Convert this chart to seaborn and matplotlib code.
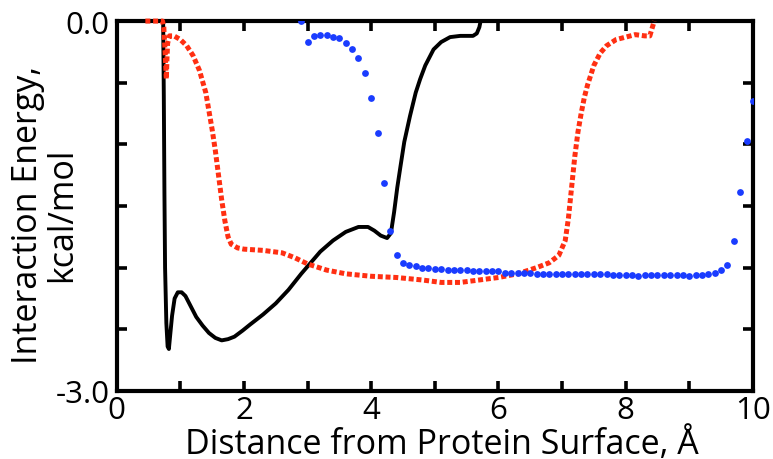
import numpy as np
import pandas as pd
import seaborn as sns
import matplotlib.pyplot as plt
from matplotlib.ticker import MultipleLocator, FuncFormatter

# black solid curve
black_x = [0.73, 0.74, 0.75, 0.76, 0.78, 0.80, 0.82, 0.84, 0.87, 0.91, 0.96, 1.02,
           1.08, 1.15, 1.25, 1.35, 1.45, 1.55, 1.65, 1.75, 1.85, 1.98, 2.1, 2.3,
           2.5, 2.7, 2.9, 3.0, 3.2, 3.4, 3.6, 3.8, 3.95, 4.05, 4.15, 4.25, 4.31,
           4.36, 4.41, 4.46, 4.52, 4.61, 4.70, 4.77, 4.85, 4.98, 5.1, 5.24, 5.4,
           5.6, 5.66, 5.70, 5.72]
black_y = [0.0, -0.6, -1.4, -2.0, -2.45, -2.64, -2.66, -2.55, -2.39, -2.25, -2.20, -2.20,
           -2.23, -2.30, -2.40, -2.47, -2.53, -2.57, -2.59, -2.58, -2.56, -2.51, -2.46, -2.38,
           -2.29, -2.18, -2.05, -1.99, -1.87, -1.78, -1.71, -1.67, -1.67, -1.70, -1.74, -1.76, -1.72,
           -1.55, -1.35, -1.18, -0.98, -0.77, -0.58, -0.47, -0.36, -0.23, -0.17, -0.13, -0.12,
           -0.12, -0.10, -0.05, 0.0]

# red dotted curve
red_x = [0.45, 0.60, 0.72, 0.74, 0.76, 0.78, 0.79, 0.80, 0.83, 0.90, 1.0, 1.1, 1.2,
         1.3, 1.4, 1.5, 1.55, 1.6, 1.65, 1.7, 1.75, 1.8, 1.9, 2.0, 2.3, 2.6, 2.8,
         3.0, 3.3, 3.6, 4.0, 4.4, 4.8, 5.1, 5.4, 5.7, 6.0, 6.3, 6.6, 6.8, 6.95,
         7.05, 7.1, 7.15, 7.2, 7.25, 7.3, 7.35, 7.4, 7.5, 7.6, 7.7, 7.85, 8.0,
         8.15, 8.3, 8.38, 8.42, 8.45]
red_y = [0.0, 0.0, 0.0, -0.05, -0.25, -0.47, -0.30, -0.18, -0.12, -0.12, -0.15, -0.20, -0.28,
         -0.40, -0.58, -0.88, -1.05, -1.25, -1.45, -1.62, -1.75, -1.81, -1.84, -1.85, -1.86, -1.88, -1.92,
         -1.97, -2.02, -2.05, -2.07, -2.08, -2.10, -2.12, -2.12, -2.10, -2.08, -2.05, -2.00, -1.96, -1.90,
         -1.78, -1.60, -1.35, -1.10, -0.90, -0.75, -0.62, -0.52, -0.36, -0.26, -0.20, -0.15, -0.13,
         -0.11, -0.12, -0.12, -0.05, 0.0]

# blue dots, one every 0.1 A from 2.9 to 10.0
blue_x = [2.9, 3.0, 3.1, 3.2, 3.3, 3.4, 3.5, 3.6, 3.7, 3.8,
          3.9, 4.0, 4.1, 4.2, 4.3, 4.4, 4.5, 4.6, 4.7, 4.8,
          4.9, 5.0, 5.1, 5.2, 5.3, 5.4, 5.5, 5.6, 5.7, 5.8,
          5.9, 6.0, 6.1, 6.2, 6.3, 6.4, 6.5, 6.6, 6.7, 6.8,
          6.9, 7.0, 7.1, 7.2, 7.3, 7.4, 7.5, 7.6, 7.7, 7.8,
          7.9, 8.0, 8.1, 8.2, 8.3, 8.4, 8.5, 8.6, 8.7, 8.8,
          8.9, 9.0, 9.1, 9.2, 9.3, 9.4, 9.5, 9.6, 9.7, 9.8,
          9.9, 10.0]
blue_y = [0.0, -0.17, -0.12, -0.11, -0.11, -0.13, -0.14, -0.18, -0.23, -0.30,
          -0.42, -0.62, -0.91, -1.31, -1.70, -1.90, -1.96, -1.98, -1.99, -2.00,
          -2.00, -2.01, -2.01, -2.02, -2.02, -2.02, -2.02, -2.03, -2.03, -2.03,
          -2.03, -2.03, -2.04, -2.04, -2.04, -2.04, -2.04, -2.05, -2.05, -2.05,
          -2.05, -2.05, -2.05, -2.05, -2.05, -2.05, -2.05, -2.05, -2.05, -2.06,
          -2.06, -2.06, -2.06, -2.07, -2.06, -2.06, -2.06, -2.06, -2.06, -2.06,
          -2.06, -2.07, -2.06, -2.06, -2.05, -2.04, -2.02, -1.98, -1.78, -1.39,
          -0.97, -0.65]

sns.set_style("ticks", {'axes.edgecolor': 'black', 'xtick.color': 'black',
                        'ytick.color': 'black', 'text.color': 'black',
                        'axes.labelcolor': 'black'})
plt.rcParams['font.family'] = ['Open Sans', 'DejaVu Sans']

fig = plt.figure(figsize=(7.73, 4.6), dpi=100)
ax = fig.add_axes([0.151, 0.148, 0.823, 0.804])

sns.lineplot(x=black_x, y=black_y, color='black', lw=2.8, sort=False, ax=ax, zorder=3)
red_line = sns.lineplot(x=red_x, y=red_y, color='#ff2f12', lw=3.6, sort=False, ax=ax, zorder=4)
red_line.lines[-1].set_linestyle((0, (1.0, 0.55)))
red_line.lines[-1].set_dash_capstyle('butt')
red_line.lines[-1].set_clip_on(False)
sns.scatterplot(x=blue_x, y=blue_y, color='#1a3cff', s=24, linewidth=0, ax=ax, zorder=5)

ax.set_xlim(0, 10)
ax.set_ylim(-3.0, 0.0)
ax.xaxis.set_major_locator(MultipleLocator(2))
ax.xaxis.set_minor_locator(MultipleLocator(1))
ax.yaxis.set_major_locator(MultipleLocator(0.5))
ax.yaxis.set_major_formatter(FuncFormatter(lambda v, p: f"{v:.1f}" if abs(v) < 1e-9 or abs(v + 3) < 1e-9 else ""))

ax.tick_params(which='both', direction='in', top=True, right=True, width=2.6,
               length=7, labelsize=22.5, pad=3, colors='black')
ax.tick_params(axis='y', pad=5)
for s in ax.spines.values():
    s.set_linewidth(3)
    s.set_color('black')
    s.set_visible(True)

ax.set_xlabel('Distance from Protein Surface, Å', fontsize=24.5)
ax.xaxis.label.set_va('top')
ax.xaxis.set_label_coords(0.511, -0.094)
ax.set_ylabel('Interaction Energy,\nkcal/mol', fontsize=24.5, linespacing=1.0, va='center')
ax.yaxis.set_label_coords(-0.112, 0.478)

fig.savefig('out.png', dpi=100)
